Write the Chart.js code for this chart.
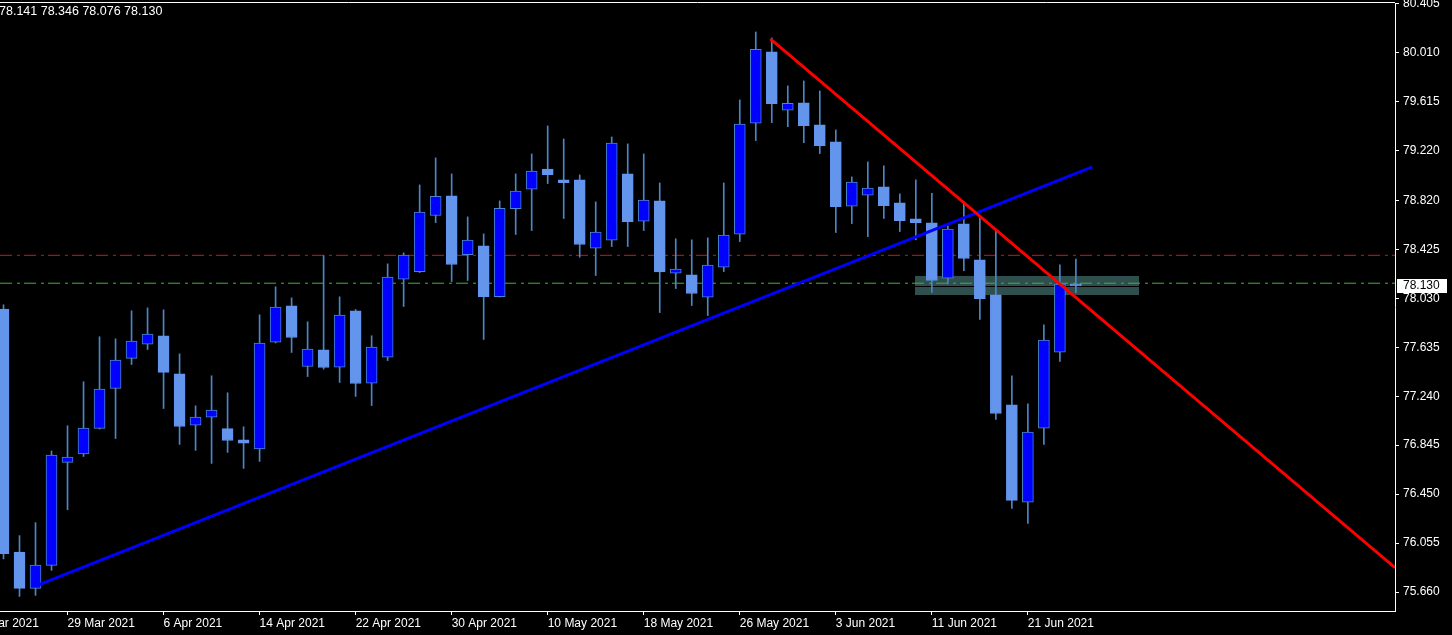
<!DOCTYPE html>
<html>
<head>
<meta charset="utf-8">
<title>Daily candles</title>
<script src="https://cdn.jsdelivr.net/npm/chart.js@4/dist/chart.umd.min.js"></script>
<style>
  html, body { margin: 0; padding: 0; background: #000; overflow: hidden; }
  canvas { display: block; }
</style>
</head>
<body>
<canvas id="chart" width="1452" height="635"></canvas>
<script>
// daily bars 23 Mar 2021 .. 24 Jun 2021
const opens  = [77.943, 75.983, 75.690, 75.875, 76.706, 76.774, 76.980, 77.303, 77.545, 77.661,
                77.728, 77.421, 77.007, 77.072, 76.978, 76.889, 76.814, 77.677, 77.970, 77.480,
                77.615, 77.475, 77.929, 77.346, 77.556, 78.185, 78.246, 78.698, 78.857, 78.383,
                78.453, 78.044, 78.754, 78.911, 79.072, 78.986, 78.986, 78.435, 78.499, 79.034,
                78.653, 78.816, 78.233, 78.220, 78.040, 78.282, 78.548, 79.443, 80.018, 79.548,
                79.607, 79.429, 79.292, 78.773, 78.862, 78.929, 78.800, 78.671, 78.639, 78.193,
                78.631, 78.341, 78.058, 77.171, 76.386, 76.983, 77.596, 78.141];
const highs  = [77.978, 76.115, 76.220, 76.798, 77.002, 77.357, 77.720, 77.703, 77.929, 77.953,
                77.937, 77.582, 77.163, 77.405, 77.268, 76.994, 77.897, 78.123, 78.034, 77.841,
                78.375, 78.042, 77.940, 77.728, 78.308, 78.397, 78.945, 79.163, 79.034, 78.687,
                78.550, 78.816, 79.034, 79.195, 79.421, 79.316, 79.026, 78.808, 79.332, 79.276,
                79.195, 78.961, 78.510, 78.502, 78.518, 78.961, 79.631, 80.179, 80.131, 79.744,
                79.784, 79.703, 79.389, 79.010, 79.131, 79.099, 78.873, 78.986, 78.878, 78.615,
                78.811, 78.687, 78.574, 77.405, 77.179, 77.816, 78.300, 78.346];
const lows   = [75.927, 75.625, 75.633, 75.835, 76.324, 76.754, 76.975, 76.899, 77.496, 77.617,
                77.141, 76.851, 76.803, 76.698, 76.787, 76.658, 76.714, 77.670, 77.593, 77.399,
                77.459, 77.351, 77.238, 77.165, 77.528, 77.964, 78.238, 78.641, 78.166, 78.174,
                77.698, 78.040, 78.545, 78.577, 78.956, 78.674, 78.362, 78.214, 78.448, 78.448,
                78.577, 77.915, 78.109, 77.972, 77.891, 78.246, 78.488, 79.303, 79.448, 79.415,
                79.286, 79.198, 78.561, 78.633, 78.528, 78.674, 78.569, 78.502, 78.077, 78.147,
                78.254, 77.859, 77.053, 76.335, 76.214, 76.851, 77.520, 78.076];
const closes = [75.970, 75.690, 75.878, 76.765, 76.749, 76.983, 77.298, 77.532, 77.685, 77.741,
                77.432, 76.996, 77.072, 77.128, 76.883, 76.862, 77.669, 77.959, 77.714, 77.620,
                77.472, 77.894, 77.343, 77.636, 78.201, 78.378, 78.725, 78.854, 78.303, 78.499,
                78.044, 78.757, 78.895, 79.056, 79.028, 78.964, 78.464, 78.564, 79.282, 78.649,
                78.822, 78.244, 78.266, 78.069, 78.298, 78.540, 79.435, 80.040, 79.601, 79.604,
                79.424, 79.262, 78.770, 78.967, 78.919, 78.778, 78.657, 78.641, 78.174, 78.588,
                78.351, 78.028, 77.101, 76.399, 76.951, 77.693, 78.145, 78.130];

// x axis: bar index of each date label (first one is cut off at the left edge)
const tickIdx    = [-2, 4, 10, 16, 22, 28, 34, 40, 46, 52, 58, 64];
const tickLabels = ['19 Mar 2021', '29 Mar 2021', '6 Apr 2021', '14 Apr 2021', '22 Apr 2021', '30 Apr 2021',
                    '10 May 2021', '18 May 2021', '26 May 2021', '3 Jun 2021', '11 Jun 2021', '21 Jun 2021'];
const priceTicks = [80.405, 80.010, 79.615, 79.220, 78.820, 78.425, 78.030,
                    77.635, 77.240, 76.845, 76.450, 76.055, 75.660];

// drawn objects (bar index / price)
const upTrend   = [{x: 2.07, y: 75.711}, {x: 68.03, y: 79.090}];
const downTrend = [{x: 47.91, y: 80.123}, {x: 86.94, y: 75.857}];
const redLevel   = 78.377;
const greenLevel = 78.152;
const zone = {from: 56.97, to: 70.97, top: 78.211, bottom: 78.058, mid: 78.130};
const lastPrice = 78.130;

const X_MIN = -0.21875, X_MAX = 86.9375;
const BULL = '#0000ff', BEAR = '#6495ed', WICK = '#4a86c8';

const isBull = opens.map((o, i) => closes[i] >= o);

const overlay = {
  id: 'overlay',
  beforeDatasetsDraw(chart) {
    const {ctx, scales: {x, y}} = chart;
    const x0 = Math.round(x.getPixelForValue(zone.from));
    const x1 = Math.round(x.getPixelForValue(zone.to));
    const y0 = Math.round(y.getPixelForValue(zone.top));
    const y1 = Math.round(y.getPixelForValue(zone.bottom));
    ctx.save();
    ctx.fillStyle = '#2f4f4f';
    ctx.fillRect(x0, y0, x1 - x0, y1 - y0);
    const ym = Math.round(y.getPixelForValue(zone.mid)) + 0.5;
    ctx.strokeStyle = '#000';
    ctx.lineWidth = 1;
    ctx.beginPath();
    ctx.moveTo(x0, ym);
    ctx.lineTo(x1, ym);
    ctx.stroke();
    ctx.restore();
  },
  afterDraw(chart) {
    const {ctx, chartArea, scales: {y}} = chart;
    ctx.save();
    // top frame line
    ctx.strokeStyle = '#fff';
    ctx.lineWidth = 1;
    ctx.beginPath();
    ctx.moveTo(0, chartArea.top - 0.5);
    ctx.lineTo(chartArea.right, chartArea.top - 0.5);
    ctx.stroke();
    // OHLC of the last bar
    const n = opens.length - 1;
    ctx.fillStyle = '#fff';
    ctx.font = '12.5px "Liberation Sans", Arial, sans-serif';
    ctx.textBaseline = 'middle';
    ctx.fillText([opens[n], highs[n], lows[n], closes[n]].map(v => v.toFixed(3)).join(' '), -1, 12);
    // current price tag
    const py = Math.round(y.getPixelForValue(lastPrice));
    ctx.fillRect(chartArea.right + 2, py - 7, 50, 14);
    ctx.fillStyle = '#000';
    ctx.font = '12px "Liberation Sans", Arial, sans-serif';
    ctx.fillText(lastPrice.toFixed(3), chartArea.right + 8, py);
    ctx.restore();
  }
};

const flat = (v) => [{x: X_MIN, y: v}, {x: X_MAX, y: v}];

new Chart(document.getElementById('chart'), {
  type: 'bar',
  data: {
    datasets: [
      {
        type: 'line', data: flat(redLevel), borderColor: '#d81010', borderWidth: 1,
        borderDash: [12, 5, 3, 4], pointRadius: 0, order: 5
      },
      {
        type: 'line', data: flat(greenLevel), borderColor: '#3cb43c', borderWidth: 1,
        borderDash: [12, 5, 3, 4], pointRadius: 0, order: 5
      },
      {
        data: highs.map((h, i) => ({x: i, y: [lows[i], h]})),
        backgroundColor: WICK, borderWidth: 0, barThickness: 1, grouped: false, order: 4
      },
      {
        data: opens.map((o, i) => ({x: i, y: [Math.min(o, closes[i]), Math.max(o, closes[i])]})),
        backgroundColor: isBull.map(b => b ? BULL : BEAR),
        borderColor: isBull.map(b => b ? WICK : BEAR),
        borderWidth: 1, borderSkipped: false, barThickness: 11, minBarLength: 2,
        grouped: false, order: 3
      },
      {
        type: 'line', data: upTrend, borderColor: '#0000ff', borderWidth: 3,
        pointRadius: 0, order: 1
      },
      {
        type: 'line', data: downTrend, borderColor: '#ff0000', borderWidth: 3,
        pointRadius: 0, order: 0
      }
    ]
  },
  options: {
    responsive: false,
    animation: false,
    devicePixelRatio: 1,
    events: [],
    layout: {padding: {top: 3, left: 0, right: 0, bottom: 0}},
    plugins: {legend: {display: false}, tooltip: {enabled: false}},
    scales: {
      x: {
        type: 'linear', min: X_MIN, max: X_MAX, offset: false,
        afterBuildTicks: (s) => { s.ticks = tickIdx.map(v => ({value: v})); },
        afterFit: (s) => { s.height = 24; s.paddingLeft = 0; s.paddingRight = 0; },
        ticks: {
          color: '#fff', font: {size: 12, family: '"Liberation Sans", Arial, sans-serif'},
          autoSkip: false, maxRotation: 0, align: 'start', padding: 1,
          callback: (v, i) => tickLabels[i]
        },
        grid: {drawOnChartArea: false, color: '#fff', tickLength: 4, offset: false},
        border: {color: '#fff'}
      },
      y: {
        type: 'linear', position: 'right', min: 75.507, max: 80.413,
        afterBuildTicks: (s) => { s.ticks = priceTicks.map(v => ({value: v})); },
        afterFit: (s) => { s.width = 57; s.paddingTop = 0; s.paddingBottom = 0; },
        ticks: {
          color: '#fff', font: {size: 12, family: '"Liberation Sans", Arial, sans-serif'},
          padding: 4, autoSkip: false,
          callback: (v) => v.toFixed(3)
        },
        grid: {drawOnChartArea: false, color: '#fff', tickLength: 4},
        border: {color: '#fff'}
      }
    }
  },
  plugins: [overlay]
});
</script>
</body>
</html>
